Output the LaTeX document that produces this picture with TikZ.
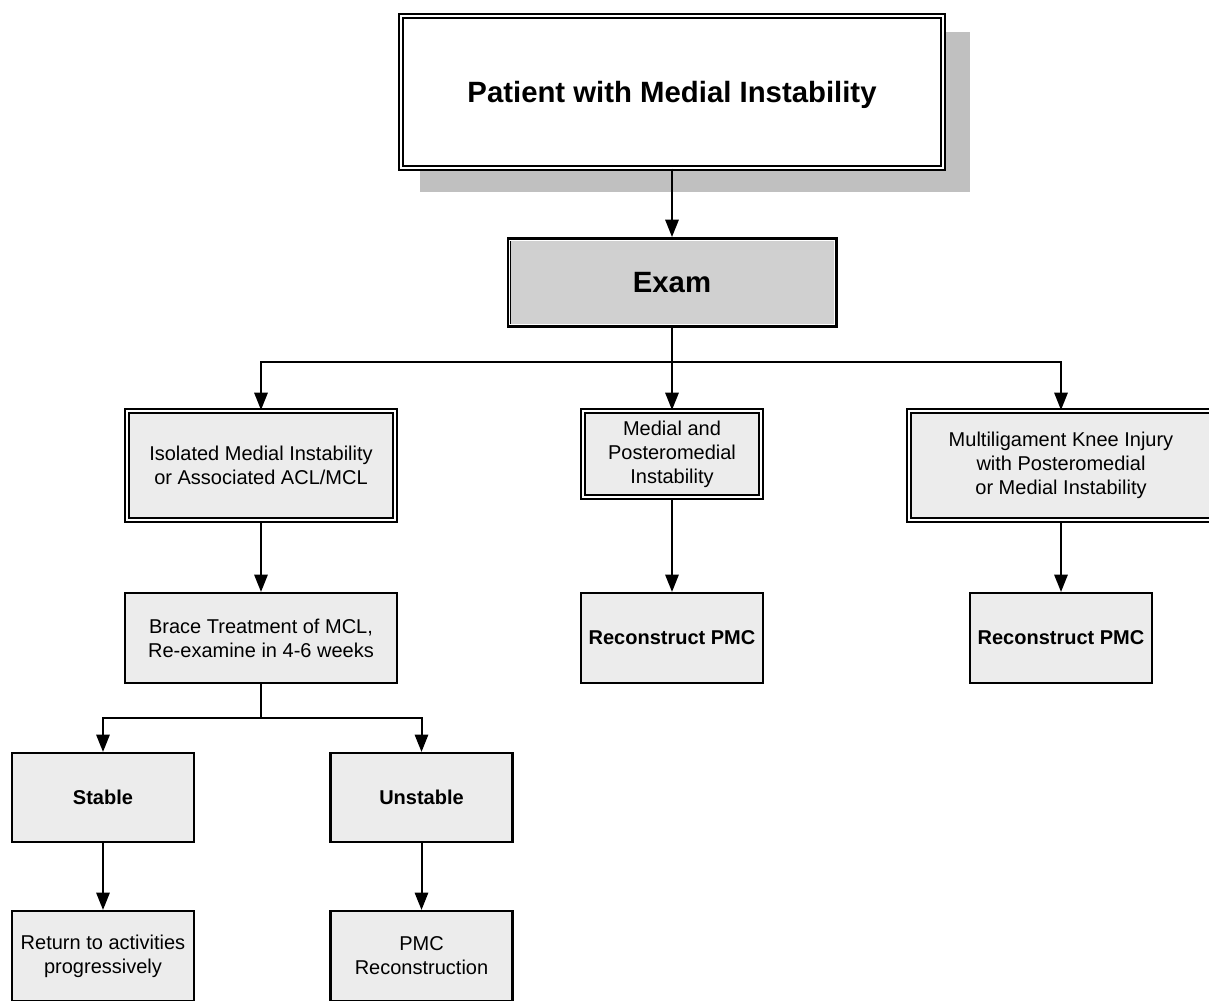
\documentclass[tikz,border=0pt]{standalone}
\usepackage{fontspec}
\setmainfont{Liberation Sans}
\usetikzlibrary{arrows.meta}
\definecolor{boxgray}{HTML}{ECECEC}
\definecolor{examgray}{HTML}{D0D0D0}
\definecolor{shadowgray}{HTML}{C0C0C0}
\tikzset{
  base/.style={rectangle, inner sep=0pt, align=center, text=black, font=\fontsize{15}{18}\selectfont},
  dbox/.style={base, fill=boxgray, draw=black, double=white, line width=1.5pt, double distance=1.5pt},
  sbox/.style={base, fill=boxgray, draw=black, line width=1.6pt},
  boldtext/.style={font=\fontsize{15}{18}\selectfont\bfseries},
  bigtext/.style={font=\fontsize{22}{26}\selectfont\bfseries, text depth=0pt},
  arr/.style={line width=1.5pt, -{Triangle[length=13pt,width=10pt]}},
  ln/.style={line width=1.5pt},
}
\begin{document}
\begin{tikzpicture}[x=0.75pt,y=-0.75pt]
\useasboundingbox (0,0) rectangle (1209,1000);
\clip (0,0) rectangle (1209,1000);
\fill[white] (0,0) rectangle (1209,1000);

% shadow of the top box
\fill[shadowgray] (420,32) rectangle (970,192);

% top
\node[dbox, fill=white, bigtext, minimum width=406.5pt, minimum height=114pt]
      (top) at (672,91.5) {Patient with Medial Instability};

% exam
\node[base, fill=examgray, draw=black, line width=3pt, bigtext, minimum width=245.25pt, minimum height=65.25pt]
      (exam) at (672,282.5) {Exam};
\draw[white, line width=0.8pt] ([xshift=2.4pt,yshift=-2.4pt]exam.north west) rectangle ([xshift=-2.4pt,yshift=2.4pt]exam.south east);

% second row
\node[dbox, minimum width=201pt, minimum height=81.75pt] (iso) at (261,465.5)
  {Isolated Medial Instability\\or Associated ACL/MCL};
\node[dbox, minimum width=133.5pt, minimum height=64.5pt] (med) at (672,454)
  {Medial and\\Posteromedial\\Instability};
\node[dbox, minimum width=228pt, minimum height=81.75pt] (multi) at (1061,465.5)
  {Multiligament Knee Injury\\with Posteromedial\\or Medial Instability};

% third row
\node[sbox, minimum width=204pt, minimum height=67.5pt] (brace) at (261,638)
  {Brace Treatment of MCL,\\Re-examine in 4-6 weeks};
\node[sbox, boldtext, minimum width=136.5pt, minimum height=67.5pt] (rec1) at (672,638)
  {Reconstruct PMC};
\node[sbox, boldtext, minimum width=136.5pt, minimum height=67.5pt] (rec2) at (1061,638)
  {Reconstruct PMC};

% fourth row
\node[sbox, boldtext, minimum width=136.5pt, minimum height=66.75pt] (stable) at (103,797.5) {Stable};
\node[sbox, boldtext, minimum width=136.5pt, minimum height=66.75pt] (unstable) at (421.5,797.5) {Unstable};

% fifth row
\node[sbox, minimum width=136.5pt, minimum height=67.5pt] (ret) at (103,956)
  {Return to activities\\progressively};
\node[sbox, minimum width=136.5pt, minimum height=67.5pt] (pmc) at (421.5,956)
  {PMC\\Reconstruction};

% connectors
\coordinate (j1) at (672,362);
\coordinate (j2) at (261,718);

\draw[arr] (top.south) -- (exam.north);
\draw[ln] (exam.south) -- (j1);
\draw[arr] (j1) -| (iso.north);
\draw[arr] (j1) -- (med.north);
\draw[arr] (j1) -| (multi.north);

\draw[arr] (iso.south) -- (brace.north);
\draw[arr] (med.south) -- (rec1.north);
\draw[arr] (multi.south) -- (rec2.north);

\draw[ln] (brace.south) -- (j2);
\draw[arr] (j2) -| (stable.north);
\draw[arr] (j2) -| (unstable.north);

\draw[arr] (stable.south) -- (ret.north);
\draw[arr] (unstable.south) -- (pmc.north);
\end{tikzpicture}
\end{document}
